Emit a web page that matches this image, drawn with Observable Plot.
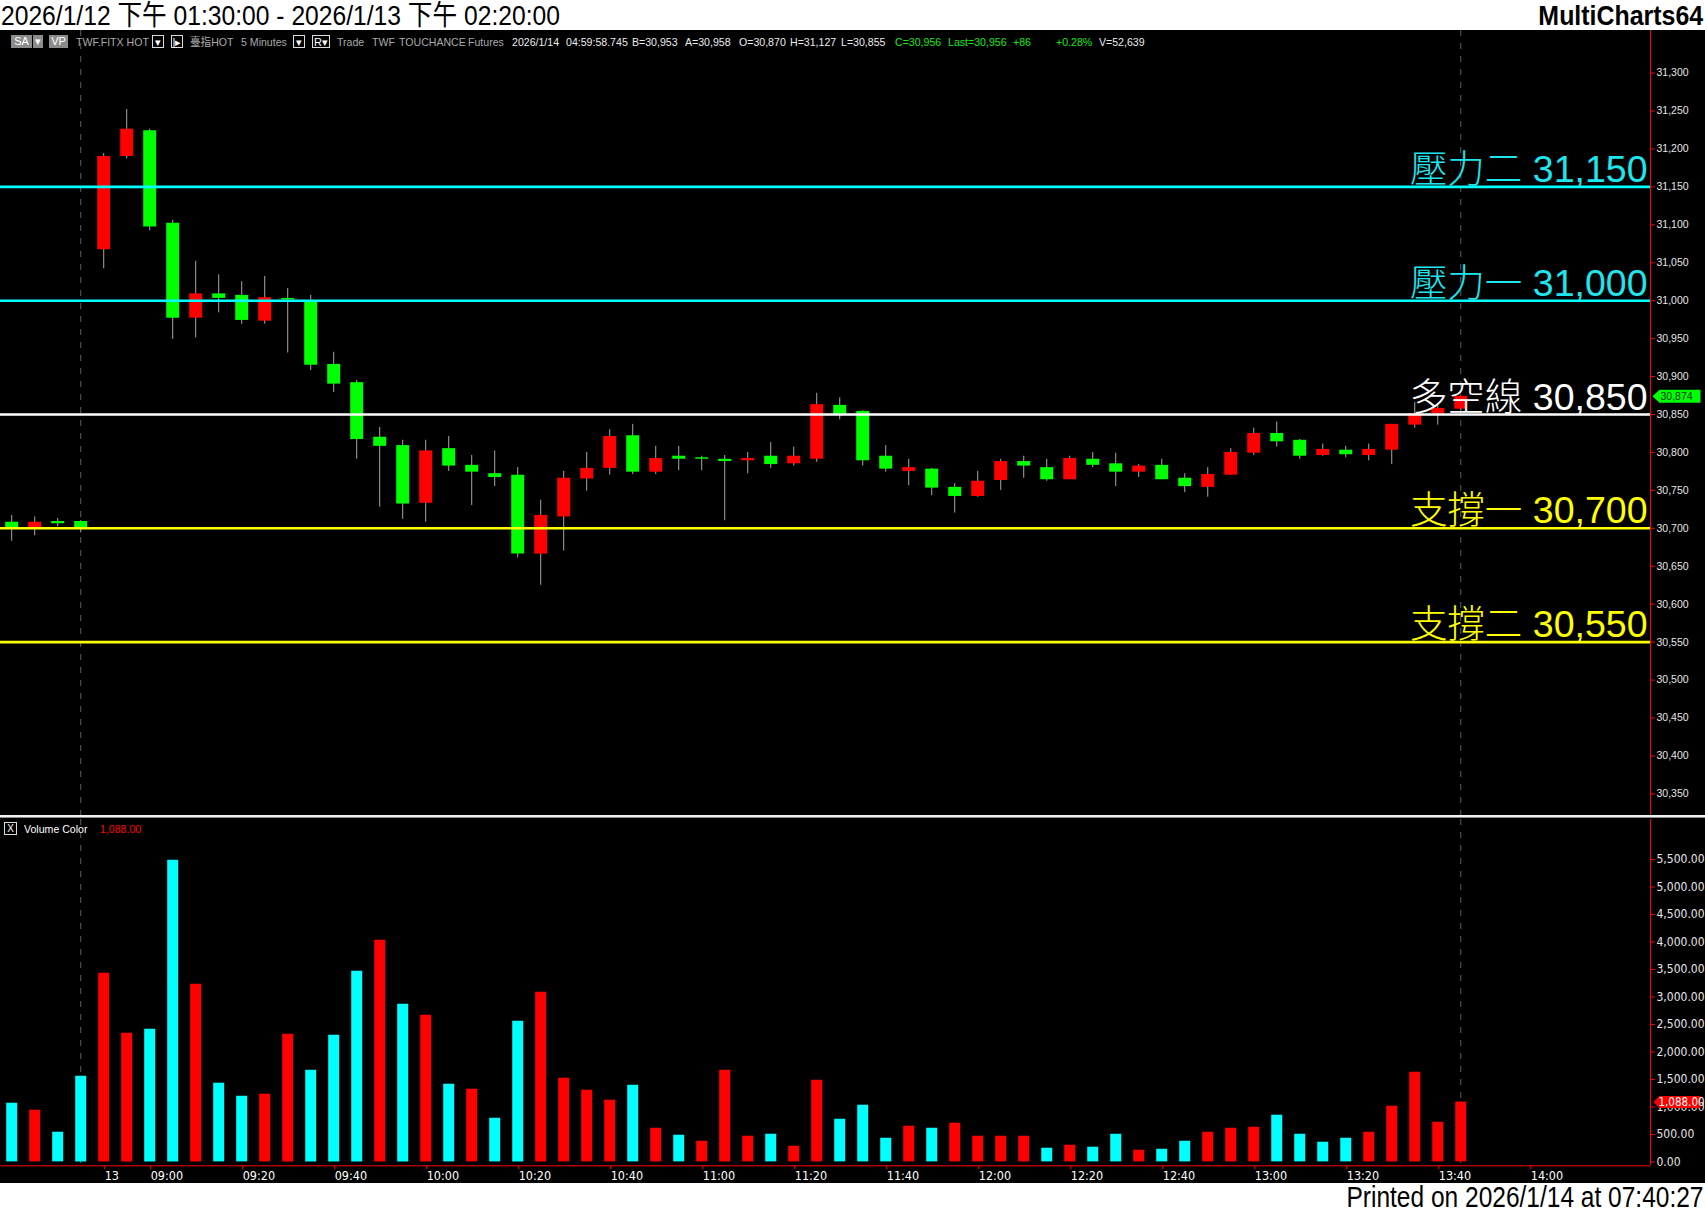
<!DOCTYPE html>
<html><head><meta charset="utf-8">
<script src="https://cdn.jsdelivr.net/npm/d3@7"></script>
<script src="https://cdn.jsdelivr.net/npm/@observablehq/plot@0.6"></script>
<style>
  body{margin:0;width:1705px;height:1211px;position:relative;overflow:hidden;background:#fff;
    font-family:"Liberation Sans",Arial,"Noto Sans CJK TC",sans-serif}
  #title{position:absolute;left:0;top:0;width:1705px;height:30px;background:#fff;color:#000}
  #title .l{position:absolute;left:1px;top:1px;font-size:28px;line-height:30px;white-space:nowrap;transform:scaleX(0.88);transform-origin:0 50%}
  #title .r{position:absolute;right:2px;top:1px;font-size:28px;line-height:30px;font-weight:bold;white-space:nowrap;transform:scaleX(0.89);transform-origin:100% 50%}
  #chart{position:absolute;left:0;top:30px;width:1705px;height:1153px;background:#000;overflow:hidden}
  #pricePane{position:absolute;left:0;top:0}
  #sep{position:absolute;left:0;top:785px;width:1705px;height:4px;background:linear-gradient(#f2f2f2 0,#f2f2f2 2px,#8a8a8a 2px,#8a8a8a 3px,#000 3px)}
  #volPane{position:absolute;left:0;top:789px}
  .tb{position:absolute;top:5px;font-size:11.5px;line-height:14px;white-space:nowrap;transform:scaleX(0.92);transform-origin:0 50%}
  .box{position:absolute;top:5px;height:13px;line-height:12px;font-size:11px;text-align:center;box-sizing:border-box}
  #footer{position:absolute;left:0;top:1183px;width:1705px;height:28px;background:#fff}
  #footer span{position:absolute;right:2px;top:0;font-size:29px;line-height:28px;white-space:nowrap;color:#000;transform:scaleX(0.845);transform-origin:100% 50%}
</style></head>
<body>
<div id="title"><span class="l">2026/1/12 下午 01:30:00 - 2026/1/13 下午 02:20:00</span><span class="r">MultiCharts64</span></div>
<div id="chart">
  <div id="pricePane"></div>
  <div id="sep"></div>
  <div id="volPane"></div>
  <div id="toolbar"></div>
  <div id="volLegend"></div>
</div>
<div id="footer"><span>Printed on 2026/1/14 at 07:40:27</span></div>
<script>
// ---------------- data ----------------
const barDates = Array(4).fill("2026/1/12").concat(Array(60).fill("2026/1/13"));
const times = ["13:30","13:35","13:40","13:45",
  "08:50","08:55","09:00","09:05","09:10","09:15","09:20","09:25","09:30","09:35","09:40","09:45",
  "09:50","09:55","10:00","10:05","10:10","10:15","10:20","10:25","10:30","10:35","10:40","10:45",
  "10:50","10:55","11:00","11:05","11:10","11:15","11:20","11:25","11:30","11:35","11:40","11:45",
  "11:50","11:55","12:00","12:05","12:10","12:15","12:20","12:25","12:30","12:35","12:40","12:45",
  "12:50","12:55","13:00","13:05","13:10","13:15","13:20","13:25","13:30","13:35","13:40","13:45"];
const opens  = [30708,30701,30709,30709,31067,31190,31224,31102,30977,31009,31007,30973,31003,31000,30916,30892,
  30820,30809,30733,30805,30783,30772,30770,30666,30715,30765,30779,30822,30774,30795,30793,30791,
  30789,30795,30785,30791,30862,30854,30795,30775,30778,30754,30742,30763,30788,30780,30764,30791,
  30785,30774,30783,30766,30754,30770,30799,30825,30816,30796,30803,30796,30803,30836,30851,30857];
const highs  = [30717,30715,30713,30710,31194,31252,31226,31106,31052,31034,31025,31032,31016,31007,30932,30895,
  30833,30816,30816,30821,30796,30802,30780,30737,30775,30800,30830,30837,30808,30808,30795,30796,
  30800,30813,30807,30878,30872,30855,30809,30791,30779,30759,30775,30791,30795,30791,30795,30800,
  30799,30784,30791,30772,30780,30805,30832,30840,30817,30811,30808,30811,30837,30866,30862,30874];
const lows   = [30683,30690,30702,30694,31042,31187,31092,30949,30951,30984,30969,30969,30931,30908,30879,30791,
  30728,30712,30708,30775,30730,30755,30661,30625,30670,30749,30770,30771,30771,30776,30776,30710,
  30772,30779,30782,30787,30843,30782,30774,30756,30743,30720,30741,30750,30766,30762,30764,30780,
  30755,30767,30764,30747,30741,30770,30796,30807,30791,30795,30793,30789,30784,30832,30836,30855];
const closes = [30701,30708,30706,30701,31190,31226,31097,30977,31009,31003,30974,31004,31001,30915,30890,30817,
  30808,30732,30802,30782,30774,30767,30666,30717,30766,30779,30821,30774,30792,30791,30791,30788,
  30792,30784,30795,30863,30850,30789,30778,30780,30753,30742,30762,30788,30782,30764,30792,30783,
  30774,30782,30764,30755,30771,30800,30825,30814,30795,30804,30797,30804,30837,30851,30858,30874];
const volumes = [1067,940,540,1558,3432,2340,2413,5487,3232,1431,1194,1231,2322,1667,2304,3468,
  4032,2868,2668,1413,1322,794,2559,3086,1522,1304,1122,1394,612,485,376,1667,
  467,503,285,1485,776,1031,430,649,612,703,467,467,467,249,303,267,
  503,212,230,376,540,612,631,849,503,358,430,540,1013,1631,721,1088];
const volumeDirs = ["dn","up","dn","dn","up","up","dn","dn","up","dn","dn","up","up","dn","dn","dn",
  "up","dn","up","dn","up","dn","dn","up","up","up","up","dn","up","dn","up","up",
  "up","dn","up","up","dn","dn","dn","up","dn","up","up","up","up","dn","up","dn",
  "dn","up","dn","dn","up","up","up","dn","dn","dn","dn","up","up","up","up","up"];
const levelNames  = ["壓力二","壓力一","多空線","支撐一","支撐二"];
const levelValues = [31150, 31000, 30850, 30700, 30550];
const levelKinds  = ["resistance","resistance","pivot","support","support"];
const priceTicks = [30350,30400,30450,30500,30550,30600,30650,30700,30750,30800,30850,30900,30950,31000,31050,31100,31150,31200,31250,31300];
const volumeTicks = [0,500,1000,1500,2000,2500,3000,3500,4000,4500,5000,5500];
const xTickLabels = ["13","09:00","09:20","09:40","10:00","10:20","10:40","11:00","11:20","11:40","12:00","12:20","12:40","13:00","13:20","13:40","14:00"];
const sessionEndTime = "13:45";

// ---------------- build ----------------
const bars = times.map((t, i) => ({i, date: barDates[i], time: t, open: opens[i], high: highs[i], low: lows[i],
  close: closes[i], volume: volumes[i], vdir: volumeDirs[i]}));
const levels = levelNames.map((n, i) => ({name: n, value: levelValues[i], kind: levelKinds[i]}));
const levelStyle = {resistance: {line: "#00ffff", text: "#1ee6ee"}, pivot: {line: "#ffffff", text: "#ffffff"}, support: {line: "#ffff00", text: "#ffff00"}};
const sessionEnds = bars.filter(b => b.time === sessionEndTime).map(b => b.i);
const toMin = s => { const [h, m] = s.split(":").map(Number); return h * 60 + m; };
const lastDay = barDates[barDates.length - 1];
const dayBars = bars.filter(b => b.date === lastDay);
function tickPos(label) {
  if (!label.includes(":")) return dayBars[0].i;
  const b = dayBars.find(d => d.time === label);
  if (b) return b.i;
  const last = dayBars[dayBars.length - 1];
  return last.i + (toMin(label) - toMin(last.time)) / 5;
}
const xTicks = xTickLabels.map(tickPos);
const xLabelMap = new Map(xTicks.map((p, k) => [p, xTickLabels[k]]));

const X0 = -0.487, X1 = 71.25;               // visible bar-index range
const PRICE_DOMAIN = [30321.5, 31356.1];
const VOL_PX_PER_UNIT = 302.4 / 5500;
const VOL_DOMAIN = [-3.9 / VOL_PX_PER_UNIT, 5500 + 40 / VOL_PX_PER_UNIT];

const sansFont = '"Liberation Sans", Arial, "Noto Sans CJK TC", sans-serif';
const narrowFont = '"Liberation Sans Narrow", "Arial Narrow", "DejaVu Sans Condensed", sans-serif';
const UP = "#ff0000", DOWN = "#00ff00";
const wick = "#a8a8a8";
const fmt = d3.format(",");

const tagSymbol = (w, h, tip) => ({draw(ctx) {
  ctx.moveTo(-w / 2 - tip, 0); ctx.lineTo(-w / 2, -h / 2); ctx.lineTo(w / 2, -h / 2);
  ctx.lineTo(w / 2, h / 2); ctx.lineTo(-w / 2, h / 2); ctx.closePath();
}});
const lastBar = bars[bars.length - 1];

const pricePlot = Plot.plot({
  width: 1705, height: 785,
  marginLeft: 0, marginRight: 55, marginTop: 0, marginBottom: 0,
  x: {domain: [X0, X1], axis: null},
  y: {domain: PRICE_DOMAIN, axis: null},
  color: {type: "identity"},
  style: {background: "black", color: "white", fontFamily: sansFont, overflow: "visible"},
  marks: [
    Plot.ruleX(sessionEnds, {x: d => d, stroke: "#5c5c5c", strokeDasharray: "6,7"}),
    Plot.ruleX(bars, {x: "i", y1: "low", y2: "high", stroke: wick, strokeWidth: 1}),
    Plot.ruleX(bars, {x: "i", y1: "open", y2: "close", stroke: d => d.close >= d.open ? UP : DOWN, strokeWidth: 13}),
    Plot.ruleY(levels, {y: "value", stroke: d => levelStyle[d.kind].line, strokeWidth: 2.6}),
    Plot.text(levels, {y: "value", text: d => `${d.name} ${fmt(d.value)}`, frameAnchor: "right",
      textAnchor: "end", lineAnchor: "bottom", dx: -3, dy: -5, fill: d => levelStyle[d.kind].text,
      fontSize: 37.5, fontWeight: 300}),
    Plot.ruleX([X1], {stroke: "#ff0000"}),
    Plot.axisY({anchor: "right", ticks: priceTicks, tickFormat: fmt, tickSize: 4, tickPadding: 2,
      stroke: "#ff0000", fill: "#e6e6e6", fontSize: 10.5, label: null}),
    Plot.dot([lastBar], {y: "close", frameAnchor: "right", dx: 29.5, symbol: tagSymbol(41, 13, 7), fill: "#00ff00", stroke: null}),
    Plot.text([lastBar], {y: "close", frameAnchor: "right", textAnchor: "start", dx: 10, text: d => fmt(d.close), fill: "#003300", fontSize: 10.5})
  ]
});
document.getElementById("pricePane").append(pricePlot);

const volPlot = Plot.plot({
  width: 1705, height: 364,
  marginLeft: 0, marginRight: 55, marginTop: 0, marginBottom: 17.7,
  x: {domain: [X0, X1]},
  y: {domain: VOL_DOMAIN},
  color: {type: "identity"},
  style: {background: "black", color: "white", fontFamily: narrowFont, overflow: "visible"},
  marks: [
    Plot.ruleX(sessionEnds, {x: d => d, stroke: "#5c5c5c", strokeDasharray: "6,7"}),
    Plot.ruleX(bars, {x: "i", y1: 0, y2: "volume", stroke: d => d.vdir === "up" ? "#ff0000" : "#00ffff", strokeWidth: 11}),
    Plot.ruleY([VOL_DOMAIN[0]], {stroke: "#ff0000"}),
    Plot.ruleX([X1], {stroke: "#ff0000"}),
    Plot.axisY({anchor: "right", ticks: volumeTicks, tickFormat: d3.format(",.2f"), tickSize: 4, tickPadding: 2,
      stroke: "#ff0000", fill: "#e6e6e6", fontSize: 12, label: null}),
    Plot.axisX({anchor: "bottom", ticks: xTicks, tickFormat: d => xLabelMap.get(d), tickSize: 4, tickPadding: 1.5,
      stroke: "#ff0000", fill: "#ffffff", textAnchor: "start", dx: 1, fontSize: 12.5, label: null}),
    Plot.dot([lastBar], {y: "volume", frameAnchor: "right", dx: 29.5, symbol: tagSymbol(41, 12, 6), fill: "#ff0000", stroke: null}),
    Plot.text([lastBar], {y: "volume", frameAnchor: "right", textAnchor: "start", dx: 8, text: d => d3.format(",.2f")(d.volume), fill: "#ffffff", fontSize: 11.5})
  ]
});
document.getElementById("volPane").append(volPlot);

// ---------------- toolbar / legend text ----------------
const GREY = "#aaaaaa", WHITE = "#ececec", GREEN = "#19e619";
const tbItems = [
  ["TWF.FITX HOT", 76, GREY], ["臺指HOT", 190, GREY], ["5 Minutes", 241, GREY],
  ["Trade", 337, GREY], ["TWF", 372, GREY], ["TOUCHANCE", 399, GREY], ["Futures", 468, GREY],
  ["2026/1/14", 512, WHITE], ["04:59:58.745", 566, WHITE], ["B=30,953", 632, WHITE], ["A=30,958", 685, WHITE],
  ["O=30,870", 739, WHITE], ["H=31,127", 790, WHITE], ["L=30,855", 841, WHITE],
  ["C=30,956", 895, GREEN], ["Last=30,956", 948, GREEN], ["+86", 1013, GREEN], ["+0.28%", 1056, GREEN],
  ["V=52,639", 1099, WHITE]
];
const tb = document.getElementById("toolbar");
for (const [t, x, c] of tbItems) {
  const s = document.createElement("span"); s.className = "tb"; s.textContent = t;
  s.style.left = x + "px"; s.style.color = c; tb.append(s);
}
const boxes = [
  ["SA", 11, 21, "#8c8c8c", "#fff", "none"], ["▾", 33, 10, "#8c8c8c", "#fff", "none"],
  ["VP", 49, 19, "#8c8c8c", "#fff", "none"],
  ["▾", 152, 12, "#000", "#fff", "1px solid #ddd"], ["|▸", 171, 12, "#000", "#fff", "1px solid #ddd"],
  ["▾", 293, 12, "#000", "#fff", "1px solid #ddd"], ["R▾", 312, 18, "#000", "#fff", "1px solid #ddd"]
];
for (const [t, x, w, bg, fg, bd] of boxes) {
  const s = document.createElement("span"); s.className = "box"; s.textContent = t;
  Object.assign(s.style, {left: x + "px", width: w + "px", background: bg, color: fg, border: bd});
  tb.append(s);
}
const lg = document.getElementById("volLegend");
lg.innerHTML = `<span style="position:absolute;left:4px;top:792px;width:13px;height:13px;box-sizing:border-box;border:1px solid #ddd;color:#fff;font-size:10px;line-height:11px;text-align:center">X</span>
<span class="tb" style="left:24px;top:792px;color:#fff">Volume Color</span>
<span class="tb" style="left:100px;top:792px;color:#ff0000">${d3.format(",.2f")(lastBar.volume)}</span>`;
</script>
</body></html>
